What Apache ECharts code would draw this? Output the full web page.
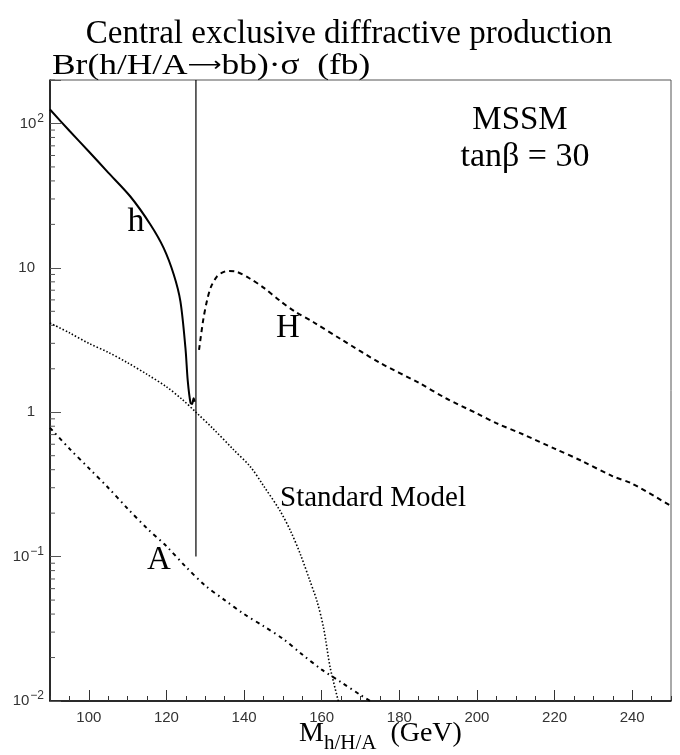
<!DOCTYPE html>
<html>
<head>
  <meta charset="UTF-8">
  <title>Central exclusive diffractive production</title>
  <style>
    html, body { margin: 0; padding: 0; background: #fff; }
    #chart { width: 680px; height: 755px; }
  </style>
</head>
<body>
  <div id="chart"></div>
  <script src="https://cdn.jsdelivr.net/npm/echarts@6/dist/echarts.min.js"></script>
  <script>
    // light higgs h (solid)
    const hMass = [90, 95, 100, 105, 110.7, 115.9, 119.3, 121.9, 123.6, 124.9, 125.5, 126.2, 126.6, 127.0, 127.3];
    const hXsec = [125, 89, 64, 45.7, 31.2, 19.9, 13.7, 8.96, 5.86, 2.78, 1.64, 1.16, 1.14, 1.25, 1.18];
    // heavy higgs H (dashed)
    const bigHMass = [128.4, 129.5, 130.5, 131.5, 133, 134.5, 136, 138, 141.6, 145, 149.3, 153, 157.9, 165, 175, 185, 192, 200, 205, 212, 220, 227, 235, 240, 250];
    const bigHXsec = [2.7, 4.4, 6.0, 7.4, 8.7, 9.3, 9.5, 9.4, 8.4, 7.3, 5.9, 5.0, 4.2, 3.2, 2.2, 1.6, 1.25, 0.98, 0.84, 0.70, 0.56, 0.46, 0.36, 0.32, 0.224];
    // standard model (dotted)
    const smMass = [90, 95, 100, 105, 110, 115, 120, 124, 127.6, 132, 137.3, 141.6, 145, 149.3, 152, 154.5, 156.8, 158.8, 160.5, 162.2, 164.5];
    const smXsec = [4.15, 3.55, 3.0, 2.6, 2.2, 1.83, 1.5, 1.23, 1.0, 0.77, 0.55, 0.42, 0.31, 0.207, 0.15, 0.104, 0.07, 0.049, 0.032, 0.017, 0.0095];
    // pseudoscalar A (dash-dot)
    const aMass = [90, 95, 100, 105, 110, 115, 120, 125, 130, 135, 140, 145, 150, 155, 160, 165, 170, 173];
    const aXsec = [0.78, 0.56, 0.41, 0.3, 0.215, 0.157, 0.118, 0.085, 0.063, 0.05, 0.040, 0.033, 0.027, 0.021, 0.0165, 0.0135, 0.011, 0.0098];
    // vertical marker line
    const markerMass = [127.6, 127.6];
    const markerXsec = [0.1, 200];

    const xTicks = [100, 120, 140, 160, 180, 200, 220, 240];
    const yLabels = { '0.01': '10{s|−2}', '0.1': '10{s|−1}', '1': '1{e| }', '10': '10{e| }', '100': '10{s|2}' };

    const zip = (xs, ys) => xs.map((x, i) => [x, ys[i]]);

    // log minor ticks 2..9 per decade
    const minorY = [];
    for (let d = -2; d <= 2; d++) {
      for (let k = 2; k <= 9; k++) {
        const v = k * Math.pow(10, d);
        if (v <= 200) minorY.push([90, v]);
      }
    }

    const serif = 'Liberation Serif';
    const sans = 'Liberation Sans';

    const chart = echarts.init(document.getElementById('chart'));
    const option = {
      animation: false,
      backgroundColor: '#fff',
      grid: {
        left: 50, right: 9, top: 80, bottom: 54,
        show: true, borderColor: '#555', borderWidth: 1
      },
      xAxis: [{
        type: 'value', min: 90, max: 250,
        axisLine: { lineStyle: { color: '#000', width: 1.5 } },
        axisTick: { inside: true, length: 11, customValues: xTicks, lineStyle: { color: '#333' } },
        axisLabel: { customValues: xTicks, color: '#333', fontSize: 15, fontFamily: sans, margin: 9 },
        splitLine: { show: false }
      }, {
        type: 'value', min: 90, max: 250, interval: 5,
        position: 'bottom',
        axisLine: { show: false },
        axisTick: { inside: true, length: 5, lineStyle: { color: '#333' } },
        axisLabel: { show: false },
        splitLine: { show: false }
      }],
      yAxis: {
        type: 'log', logBase: 10, min: 0.01, max: 200,
        axisLine: { show: true, lineStyle: { color: '#000', width: 1.5 } },
        axisTick: { show: true, inside: true, length: 11, lineStyle: { color: '#555' } },
        axisLabel: {
          margin: 6, color: '#333', fontSize: 15, fontFamily: sans,
          formatter: function (v) {
            const key = String(+v.toPrecision(6));
            return yLabels[key] || '';
          },
          rich: {
            s: { fontSize: 12, fontFamily: sans, color: '#333', verticalAlign: 'top', padding: [0, 0, 10, 1] },
            e: { width: 9, fontSize: 11 }
          }
        },
        splitLine: { show: false }
      },
      series: [{
        type: 'custom',
        coordinateSystem: 'cartesian2d',
        silent: true,
        renderItem: function (params, api) {
          const p = api.coord([api.value(0), api.value(1)]);
          return {
            type: 'line',
            shape: { x1: p[0], y1: p[1], x2: p[0] + 5, y2: p[1] },
            style: { stroke: '#555', lineWidth: 1 }
          };
        },
        data: minorY
      }, {
        name: 'h', type: 'line', showSymbol: false, smooth: 0.3,
        lineStyle: { color: '#000', width: 2 },
        data: zip(hMass, hXsec)
      }, {
        name: 'H', type: 'line', showSymbol: false, smooth: 0.3,
        lineStyle: { color: '#000', width: 2, type: [5, 4] },
        data: zip(bigHMass, bigHXsec)
      }, {
        name: 'Standard Model', type: 'line', showSymbol: false, smooth: 0.3,
        lineStyle: { color: '#000', width: 1.6, type: [1.5, 2] },
        data: zip(smMass, smXsec)
      }, {
        name: 'A', type: 'line', showSymbol: false, smooth: 0.3,
        lineStyle: { color: '#000', width: 2, type: [4, 4, 1.5, 4] },
        data: zip(aMass, aXsec)
      }, {
        type: 'line', showSymbol: false,
        lineStyle: { color: '#000', width: 1.2 },
        data: zip(markerMass, markerXsec)
      }],
      graphic: [
        { type: 'text', x: 349, y: 34, style: { text: 'Central exclusive diffractive production', font: '33px ' + serif, fill: '#000', align: 'center', verticalAlign: 'middle' } },
        {
          type: 'text', x: 52, y: 66, scaleX: 1.18,
          style: {
            text: '{t|Br(h/H/A}{a|⟶}{t|bb)·σ  (fb)}',
            align: 'left', verticalAlign: 'middle', fill: '#000',
            rich: {
              t: { fontSize: 30, fontFamily: serif, fill: '#000' },
              a: { fontSize: 20, fontFamily: 'DejaVu Sans', fill: '#000' }
            }
          }
        },
        { type: 'text', x: 520, y: 120, style: { text: 'MSSM', font: '33px ' + serif, fill: '#000', align: 'center', verticalAlign: 'middle' } },
        { type: 'text', x: 525, y: 157, style: { text: 'tanβ = 30', font: '34px ' + serif, fill: '#000', align: 'center', verticalAlign: 'middle' } },
        { type: 'text', x: 136, y: 222, style: { text: 'h', font: '34px ' + serif, fill: '#000', align: 'center', verticalAlign: 'middle' } },
        { type: 'text', x: 288, y: 328, style: { text: 'H', font: '33px ' + serif, fill: '#000', align: 'center', verticalAlign: 'middle' } },
        { type: 'text', x: 159, y: 560, style: { text: 'A', font: '33px ' + serif, fill: '#000', align: 'center', verticalAlign: 'middle' } },
        { type: 'text', x: 280, y: 498, style: { text: 'Standard Model', font: '29px ' + serif, fill: '#000', align: 'left', verticalAlign: 'middle' } },
        {
          type: 'text', x: 299, y: 734,
          style: {
            text: '{m|M}{b|h/H/A}{m|  (GeV)}',
            align: 'left', verticalAlign: 'middle', fill: '#000',
            rich: {
              m: { fontSize: 28, fontFamily: serif, fill: '#000' },
              b: { fontSize: 21, fontFamily: serif, fill: '#000', verticalAlign: 'bottom', padding: [18, 0, 0, 0] }
            }
          }
        }
      ]
    };
    chart.setOption(option);
  </script>
</body>
</html>
